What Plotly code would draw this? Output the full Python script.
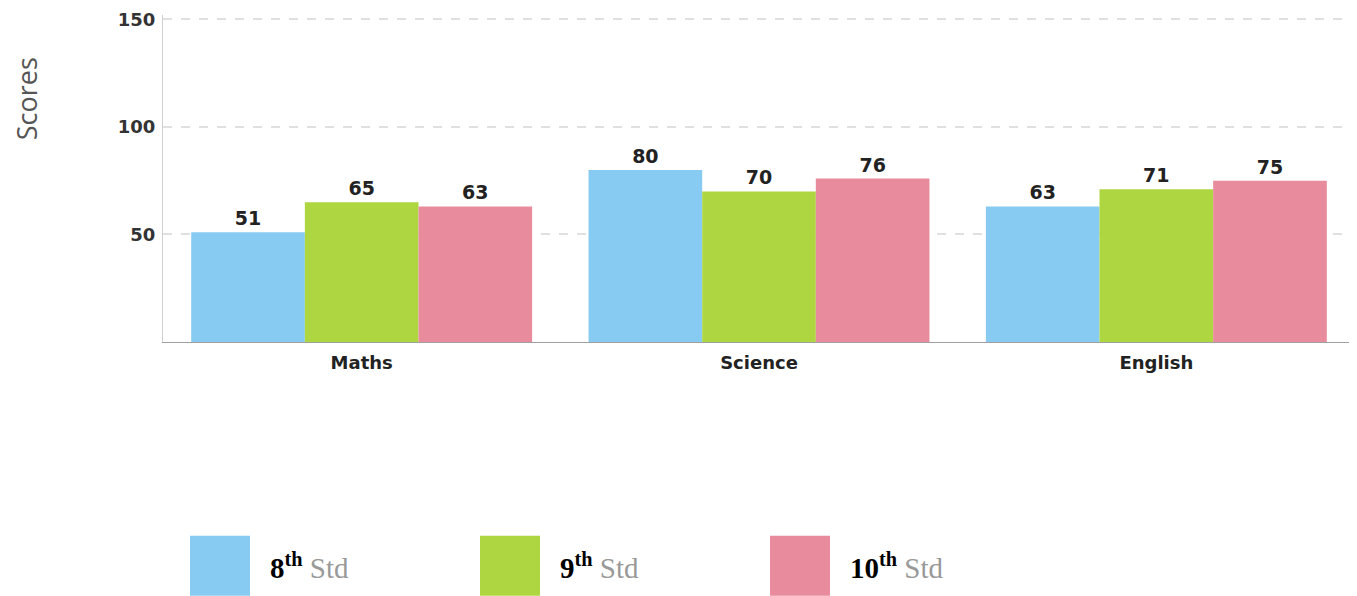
import plotly.graph_objects as go

subjects = ["Maths", "Science", "English"]
series_names = ["8th", "9th", "10th"]
std8 = [51, 80, 63]
std9 = [65, 70, 71]
std10 = [63, 76, 75]
colors = ["#87CBF2", "#ADD640", "#E88B9D"]
ytick_vals = [50, 100, 150]
y_max = 152

OFF = 8  # page body margin offset
BOTTOM_PX = 342          # pixel row of value 0
PX_PER_UNIT = 323 / 150  # pixels per score unit
PH = PX_PER_UNIT * y_max
W, H = 1357 - OFF, 596 - OFF
L, R = 163 - OFF, 2
T = BOTTOM_PX - PH - OFF
B = H - T - PH
pw = W - L - R

def px_x(p):
    return (p - OFF - L) / pw

def px_y(p):
    return (T + PH - (p - OFF)) / PH

fig = go.Figure()
for name, vals, col in zip(series_names, [std8, std9, std10], colors):
    fig.add_trace(go.Bar(
        x=subjects, y=vals, name=name, marker=dict(color=col, line=dict(width=0)),
        text=[str(v) for v in vals], textposition="outside", cliponaxis=False,
        textfont=dict(family="DejaVu Sans", size=19, color="#222222", weight="bold"),
    ))

fig.update_layout(
    width=W, height=H, barmode="group", bargap=0.142, bargroupgap=0,
    margin=dict(l=L, r=R, t=T, b=B),
    plot_bgcolor="white", paper_bgcolor="white", showlegend=False,
    font=dict(family="DejaVu Sans"),
)
fig.update_xaxes(
    showline=True, linecolor="#a0a0a0", linewidth=1, ticks="",
    tickfont=dict(family="DejaVu Sans", size=18, color="#222222", weight="bold"),
    ticklabelstandoff=4,
)
fig.update_yaxes(
    range=[0, y_max], tickvals=ytick_vals, showgrid=True, gridcolor="#e0e0e0",
    griddash="dash", gridwidth=1.5, zeroline=False, showline=True, linecolor="#d0d0d0",
    tickfont=dict(family="DejaVu Sans", size=18, color="#333333", weight="bold"),
    ticklabelstandoff=3,
)

# y-axis title
fig.add_annotation(
    text="Scores", xref="paper", yref="paper", x=px_x(26), y=px_y(99),
    textangle=-90, showarrow=False, xanchor="center", yanchor="middle",
    font=dict(family="Open Sans", size=27, color="#555555"),
)

# custom legend
sq_lefts = [190, 480, 770]
for i, (name, col) in enumerate(zip(series_names, colors)):
    x0 = sq_lefts[i]
    fig.add_shape(type="rect", xref="paper", yref="paper",
                  x0=px_x(x0), x1=px_x(x0 + 60), y0=px_y(596), y1=px_y(536),
                  fillcolor=col, line=dict(width=0))
    num, sup = name[:-2], name[-2:]
    fig.add_annotation(
        text=f"<b>{num}<sup>{sup}</sup></b> <span style='color:#999999'>Std</span>",
        xref="paper", yref="paper", x=px_x(x0 + 78), y=px_y(566),
        xanchor="left", yanchor="middle", showarrow=False,
        font=dict(family="Liberation Serif, Times New Roman", size=29, color="#000000"),
    )

fig.write_html("out.html")
